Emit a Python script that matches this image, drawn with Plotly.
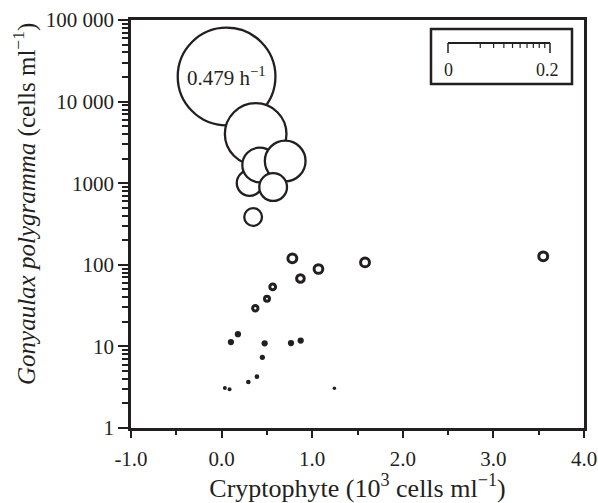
import math
import plotly.graph_objects as go

# ---- data ----
# Cryptophyte concentration (10^3 cells/ml)
crypto = [0.055, 0.376, 0.309, 0.420, 0.702, 0.569, 0.348,
          0.781, 0.870, 1.069, 0.564, 0.501, 0.372, 1.583, 3.550,
          0.103, 0.180, 0.475, 0.766, 0.873, 0.450, 0.390, 0.295, 0.036, 0.088, 1.245]
# Gonyaulax polygramma concentration (cells/ml)
gony = [20300, 4010, 1005, 1670, 1870, 898, 385,
        120, 68, 88.8, 53.5, 38.4, 29.3, 107, 127,
        11.3, 14.1, 10.9, 11.0, 11.8, 7.35, 4.26, 3.66, 3.09, 2.98, 3.07]
# growth rate (h^-1), shown as circle size
growth = [0.479, 0.306, 0.134, 0.177, 0.206, 0.144, 0.096,
          0.057, 0.051, 0.056, 0.042, 0.038, 0.040, 0.057, 0.057,
          0.030, 0.030, 0.030, 0.030, 0.030, 0.025, 0.022, 0.022, 0.019, 0.019, 0.017]

x_tickvals = [-1, 0, 1, 2, 3, 4]
x_ticktext = ["-1.0", "0.0", "1.0", "2.0", "3.0", "4.0"]
y_tickvals = [1, 10, 100, 1000, 10000, 100000]
y_ticktext = ["1", "10", "100", "1000", "10 000", "100 000"]
legend_ticks = [0.02, 0.04, 0.06, 0.08, 0.10, 0.12, 0.14, 0.16, 0.18]
legend_max = 0.2

INK = "#231f20"
FONT = "Liberation Serif"

W, H = 598, 503
ML, MR, MT, MB = 131, 14, 20, 75
PW, PH = W - ML - MR, H - MT - MB


def px(xp):
    return (xp - ML) / PW


def py(yp):
    return (H - MB - yp) / PH


# circle outer diameter proportional to growth rate
D_PER_UNIT = 100 / 0.479
outer = [g * D_PER_UNIT for g in growth]
lw, sizes, fills = [], [], []
for d in outer:
    if d < 7:          # tiny symbols print as solid dots
        lw.append(0)
        sizes.append(d)
        fills.append(INK)
    else:
        w = 2.3 if d > 15 else 3.0
        lw.append(w)
        sizes.append(d - w)
        fills.append("white")

fig = go.Figure()
fig.add_trace(go.Scatter(
    x=crypto, y=gony, mode="markers",
    marker=dict(size=sizes, color=fills, opacity=1,
                line=dict(color=INK, width=lw)),
    hoverinfo="x+y", showlegend=False,
))

fig.add_annotation(x=crypto[0], y=math.log10(gony[0]), xref="x", yref="y",
                   text="0.479 h<sup>\u22121</sup>", showarrow=False,
                   xanchor="center", yanchor="middle",
                   font=dict(family=FONT, size=21, color=INK))

# size legend box
shapes = [dict(type="rect", xref="paper", yref="paper",
               x0=px(431), x1=px(572), y0=py(84), y1=py(29),
               line=dict(color=INK, width=2.5), fillcolor="white")]
bx0, bx1, by = 448, 550, 43
shapes.append(dict(type="line", xref="paper", yref="paper",
                   x0=px(bx0), x1=px(bx1), y0=py(by), y1=py(by),
                   line=dict(color=INK, width=2)))
for xe in (bx0, bx1):
    shapes.append(dict(type="line", xref="paper", yref="paper",
                       x0=px(xe), x1=px(xe), y0=py(by), y1=py(by + 10),
                       line=dict(color=INK, width=1.5)))
for v in legend_ticks:
    xp = bx0 + (bx1 - bx0) * math.sqrt(v / legend_max)
    shapes.append(dict(type="line", xref="paper", yref="paper",
                       x0=px(xp), x1=px(xp), y0=py(by), y1=py(by + 5),
                       line=dict(color=INK, width=1.2)))
fig.update_layout(shapes=shapes)
for txt, xl in (("0", bx0), ("0.2", 547)):
    fig.add_annotation(x=px(xl), y=py(70), xref="paper", yref="paper", text=txt,
                       showarrow=False, xanchor="center", yanchor="middle",
                       font=dict(family=FONT, size=18, color=INK))

# y-axis title (sits a little above the plot centre in the reference)
fig.add_annotation(x=px(25), y=py(204), xref="paper", yref="paper",
                   text="<i>Gonyaulax polygramma</i> (cells ml<sup>\u22121</sup>)",
                   textangle=-90, showarrow=False, xanchor="center", yanchor="middle",
                   font=dict(family=FONT, size=25, color=INK))

y_minor = [k * 10 ** e for e in range(0, 5) for k in range(2, 10)]

fig.update_xaxes(range=[-1, 4], tickvals=x_tickvals, ticktext=x_ticktext,
                 ticks="outside", ticklen=7, tickwidth=1.8, tickcolor=INK,
                 showline=True, linewidth=2.5, linecolor=INK, mirror=True,
                 showgrid=False, zeroline=False, automargin=False,
                 ticklabelstandoff=3,
                 minor=dict(tickvals=[-0.5, 0.5, 1.5, 2.5, 3.5], ticks="outside",
                            ticklen=4, tickwidth=1.5, tickcolor=INK, showgrid=False),
                 tickfont=dict(family=FONT, size=21, color=INK),
                 title=dict(text="Cryptophyte (10<sup>3</sup> cells ml<sup>\u22121</sup>)",
                            font=dict(family=FONT, size=26, color=INK), standoff=5))
fig.update_yaxes(type="log", range=[0, 5], tickvals=y_tickvals, ticktext=y_ticktext,
                 ticks="outside", ticklen=10, tickwidth=1.8, tickcolor=INK,
                 showline=True, linewidth=2.5, linecolor=INK, mirror=True,
                 showgrid=False, zeroline=False, automargin=False,
                 minor=dict(tickvals=y_minor, ticks="outside", ticklen=6,
                            tickwidth=1.5, tickcolor=INK, showgrid=False),
                 tickfont=dict(family=FONT, size=21, color=INK))

fig.update_layout(width=W, height=H, margin=dict(l=ML, r=MR, t=MT, b=MB),
                  paper_bgcolor="white", plot_bgcolor="white",
                  font=dict(family=FONT, color=INK))

fig.write_html("out.html", config={"displayModeBar": False},
               post_script="document.body.style.margin='0px';")
